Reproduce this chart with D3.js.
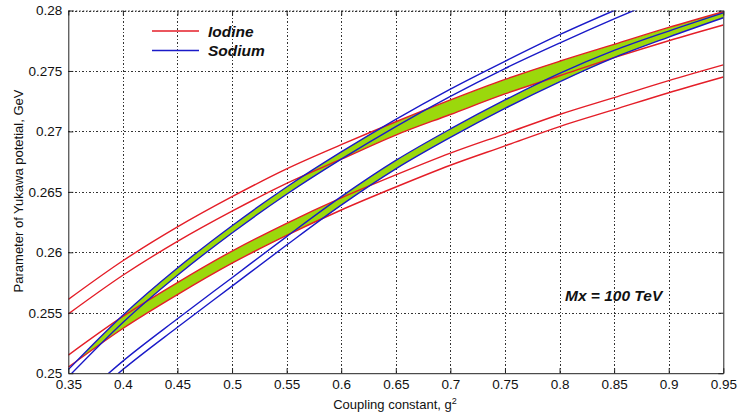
<!DOCTYPE html>
<html>
<head>
<meta charset="utf-8">
<script src="https://cdn.jsdelivr.net/npm/d3@7"></script>
<style>
  html, body { margin: 0; padding: 0; background: #fff; }
  svg { display: block; font-family: "Liberation Sans", Arial, sans-serif; }
</style>
</head>
<body>
<svg id="chart" width="738" height="417"></svg>
<script>
// Coupling constant g^2 sample points
const gSquared = [0.35, 0.40, 0.45, 0.50, 0.55, 0.60, 0.65, 0.70, 0.75, 0.80, 0.85, 0.90, 0.95];

// Iodine: upper band (two red curves) and lower band (two red curves), GeV
const iodineUpperTop    = [0.2561, 0.2593, 0.2621, 0.2646, 0.2669, 0.2689, 0.2708, 0.2726, 0.2743, 0.2758, 0.2772, 0.2786, 0.2799];
const iodineUpperBottom = [0.2549, 0.2581, 0.2609, 0.2634, 0.2657, 0.2677, 0.2697, 0.2714, 0.2731, 0.2746, 0.2761, 0.2775, 0.2788];
const iodineLowerTop    = [0.2515, 0.2547, 0.2575, 0.2601, 0.2624, 0.2645, 0.2664, 0.2682, 0.2698, 0.2714, 0.2728, 0.2742, 0.2755];
const iodineLowerBottom = [0.2505, 0.2537, 0.2565, 0.2591, 0.2614, 0.2635, 0.2654, 0.2672, 0.2688, 0.2704, 0.2718, 0.2732, 0.2745];

// Sodium: left (steep) band and right band, two blue curves each, GeV
const sodiumLeftTop     = [0.2503, 0.2548, 0.2587, 0.2622, 0.2654, 0.2683, 0.2710, 0.2735, 0.2758, 0.2780, 0.2800, 0.2819, 0.2837];
const sodiumLeftBottom  = [0.2497, 0.2542, 0.2581, 0.2616, 0.2648, 0.2677, 0.2704, 0.2729, 0.2752, 0.2773, 0.2793, 0.2812, 0.2830];
const sodiumRightTop    = [0.2470, 0.2510, 0.2545, 0.2579, 0.2613, 0.2646, 0.2676, 0.2702, 0.2726, 0.2748, 0.2767, 0.2783, 0.2798];
const sodiumRightBottom = [0.2463, 0.2503, 0.2538, 0.2572, 0.2606, 0.2639, 0.2669, 0.2695, 0.2719, 0.2741, 0.2761, 0.2778, 0.2794];

// Axis ticks
const xTickValues = [0.35, 0.4, 0.45, 0.5, 0.55, 0.6, 0.65, 0.7, 0.75, 0.8, 0.85, 0.9, 0.95];
const xTickLabels = ["0.35", "0.4", "0.45", "0.5", "0.55", "0.6", "0.65", "0.7", "0.75", "0.8", "0.85", "0.9", "0.95"];
const yTickValues = [0.25, 0.255, 0.26, 0.265, 0.27, 0.275, 0.28];
const yTickLabels = ["0.25", "0.255", "0.26", "0.265", "0.27", "0.275", "0.28"];

// Legend entries
const legendNames = ["Iodine", "Sodium"];

const RED = "#e41e28";
const BLUE = "#1a1ac8";
const GREEN = "#9bd80c";

const svg = d3.select("#chart");
const plot = { left: 68.3, right: 723.3, top: 10.5, bottom: 373.2 };

const x = d3.scaleLinear().domain([0.35, 0.95]).range([plot.left, plot.right]);
const y = d3.scaleLinear().domain([0.25, 0.28]).range([plot.bottom, plot.top]);

svg.append("rect").attr("width", 738).attr("height", 417).attr("fill", "#fff");

const defs = svg.append("defs");
defs.append("clipPath").attr("id", "plot-clip")
  .append("rect")
  .attr("x", plot.left).attr("y", plot.top)
  .attr("width", plot.right - plot.left).attr("height", plot.bottom - plot.top);

const curve = d3.curveMonotoneX;
const bandArea = (lo, hi) => d3.area()
  .curve(curve)
  .x((d, i) => x(gSquared[i]))
  .y0((d, i) => y(lo[i]))
  .y1((d, i) => y(hi[i]))(gSquared);
const lineOf = vals => d3.line()
  .curve(curve)
  .x((d, i) => x(gSquared[i]))
  .y((d, i) => y(vals[i]))(gSquared);

// Envelopes: region between the outermost curves of each element
defs.append("clipPath").attr("id", "iodine-hull")
  .append("path").attr("d", bandArea(iodineLowerBottom, iodineUpperTop));
defs.append("clipPath").attr("id", "sodium-hull")
  .append("path").attr("d", bandArea(sodiumRightBottom, sodiumLeftTop));

// Grid
const grid = svg.append("g").attr("stroke", "#333").attr("stroke-width", 1)
  .attr("stroke-dasharray", "1.5,2").attr("shape-rendering", "crispEdges");
grid.selectAll("line.v").data(xTickValues.slice(1, -1)).join("line")
  .attr("x1", d => Math.round(x(d)) + 0.5).attr("x2", d => Math.round(x(d)) + 0.5)
  .attr("y1", plot.top).attr("y2", plot.bottom);
grid.selectAll("line.h").data(yTickValues.slice(1)).join("line")
  .attr("y1", d => Math.round(y(d)) + 0.5).attr("y2", d => Math.round(y(d)) + 0.5)
  .attr("x1", plot.left).attr("x2", plot.right);

// Overlap regions (green)
const fills = svg.append("g").attr("clip-path", "url(#plot-clip)");
const fillBand = (lo, hi, hull) => fills.append("g").attr("clip-path", `url(#${hull})`)
  .append("path").attr("d", bandArea(lo, hi)).attr("fill", GREEN);
fillBand(iodineUpperBottom, iodineUpperTop, "sodium-hull");
fillBand(iodineLowerBottom, iodineLowerTop, "sodium-hull");
fillBand(sodiumLeftBottom, sodiumLeftTop, "iodine-hull");
fillBand(sodiumRightBottom, sodiumRightTop, "iodine-hull");

// Curves
const curves = svg.append("g").attr("clip-path", "url(#plot-clip)")
  .attr("fill", "none").attr("stroke-width", 1.4);
[iodineUpperTop, iodineUpperBottom, iodineLowerTop, iodineLowerBottom].forEach(v =>
  curves.append("path").attr("d", lineOf(v)).attr("stroke", RED));
[sodiumLeftTop, sodiumLeftBottom, sodiumRightTop, sodiumRightBottom].forEach(v =>
  curves.append("path").attr("d", lineOf(v)).attr("stroke", BLUE));

// Axes
const xAxisB = d3.axisBottom(x).tickValues(xTickValues).tickSizeInner(-5).tickSizeOuter(0)
  .tickFormat((d, i) => xTickLabels[i]).tickPadding(6);
const xAxisT = d3.axisTop(x).tickValues(xTickValues).tickSizeInner(-5).tickSizeOuter(0).tickFormat("");
const yAxisL = d3.axisLeft(y).tickValues(yTickValues).tickSizeInner(-5).tickSizeOuter(0)
  .tickFormat((d, i) => yTickLabels[i]).tickPadding(6);
const yAxisR = d3.axisRight(y).tickValues(yTickValues).tickSizeInner(-5).tickSizeOuter(0).tickFormat("");

const styleAxis = g => {
  g.selectAll("text").attr("fill", "#111").style("font-size", "13.5px")
    .style("font-family", '"Liberation Sans", Arial, sans-serif');
  g.selectAll("line").attr("stroke", "#222");
};
svg.append("g").attr("transform", `translate(0,${plot.bottom})`).call(xAxisB).call(styleAxis)
  .call(g => g.select(".domain").attr("stroke", "#222"));
svg.append("g").attr("transform", `translate(0,${plot.top})`).call(xAxisT).call(styleAxis)
  .call(g => g.select(".domain").attr("stroke", "#333").attr("stroke-dasharray", "1.5,2"));
svg.append("g").attr("transform", `translate(${plot.left},0)`).call(yAxisL).call(styleAxis)
  .call(g => g.select(".domain").attr("stroke", "#222"));
svg.append("g").attr("transform", `translate(${plot.right},0)`).call(yAxisR).call(styleAxis)
  .call(g => g.select(".domain").attr("stroke", "#222"));

// Axis titles
const xTitle = svg.append("text").attr("x", 395).attr("y", 409).attr("text-anchor", "middle")
  .style("font-size", "13px").attr("fill", "#111");
xTitle.append("tspan").text("Coupling constant, g");
xTitle.append("tspan").attr("dy", -5.5).style("font-size", "9px").text("2");

svg.append("text").attr("transform", "translate(23,191) rotate(-90)")
  .attr("text-anchor", "middle").style("font-size", "13px").attr("fill", "#111")
  .text("Parameter of Yukawa potetial, GeV");

// Legend
const legend = svg.append("g");
legendNames.forEach((name, i) => {
  const ly = 31 + i * 19.5;
  legend.append("line").attr("x1", 152).attr("x2", 199).attr("y1", ly).attr("y2", ly)
    .attr("stroke", i === 0 ? RED : BLUE).attr("stroke-width", 1.5);
  legend.append("text").attr("x", 208).attr("y", ly + 5.5)
    .style("font-size", "15.5px").style("font-weight", "bold").style("font-style", "italic")
    .attr("fill", "#111").text(name);
});

// Annotation
svg.append("text").attr("x", 565).attr("y", 300.5)
  .style("font-size", "15.5px").style("font-weight", "bold").style("font-style", "italic")
  .attr("fill", "#111").text("Mx = 100 TeV");
</script>
</body>
</html>
